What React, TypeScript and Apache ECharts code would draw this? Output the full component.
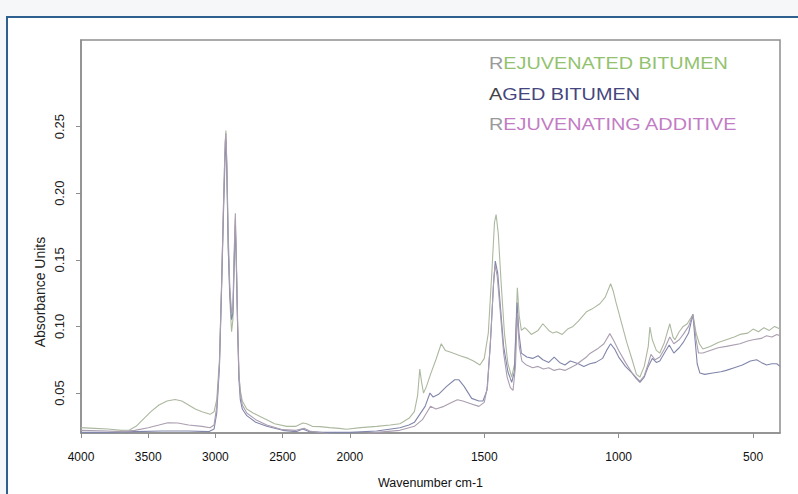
import React, { useEffect, useRef } from 'react';
import * as echarts from 'echarts';

// ---------- data (wavenumber cm-1, absorbance units) ----------
const rejW = [4000,3900,3800,3700,3640,3590,3540,3480,3420,3360,3300,3250,3200,3150,3100,3040,3010,2990,2970,2955,2940,2928,2922,2915,2905,2893,2880,2870,2860,2852,2845,2835,2825,2815,2800,2767,2720,2660,2618,2560,2470,2400,2350,2321,2280,2223,2150,2080,2025,1960,1900,1850,1814,1780,1760,1748,1740,1733,1726,1715,1700,1680,1660,1645,1630,1617,1590,1560,1540,1516,1500,1485,1472,1462,1456,1448,1438,1425,1412,1398,1387,1377,1370,1362,1350,1343,1325,1300,1282,1260,1245,1231,1210,1190,1170,1150,1120,1100,1070,1050,1030,1021,1010,990,970,950,934,921,905,890,884,875,860,847,830,810,798,791,775,760,745,724,712,700,687,660,630,600,570,549,520,500,480,460,440,420,400];
const rejA = [0.024,0.0235,0.023,0.022,0.0222,0.025,0.030,0.036,0.041,0.044,0.0452,0.044,0.041,0.038,0.036,0.034,0.036,0.045,0.075,0.129,0.19,0.235,0.247,0.22,0.16,0.12,0.096,0.105,0.15,0.181,0.15,0.10,0.062,0.052,0.044,0.038,0.035,0.032,0.030,0.027,0.025,0.025,0.0275,0.027,0.025,0.0248,0.024,0.0235,0.0228,0.024,0.025,0.026,0.027,0.031,0.036,0.048,0.068,0.058,0.05,0.055,0.064,0.075,0.087,0.082,0.081,0.080,0.078,0.076,0.074,0.071,0.076,0.095,0.14,0.178,0.184,0.17,0.135,0.095,0.072,0.062,0.072,0.129,0.108,0.097,0.099,0.098,0.094,0.097,0.102,0.097,0.095,0.096,0.094,0.098,0.100,0.104,0.111,0.113,0.117,0.122,0.132,0.127,0.118,0.103,0.088,0.075,0.064,0.062,0.07,0.085,0.0995,0.09,0.082,0.08,0.088,0.102,0.092,0.09,0.096,0.1,0.102,0.109,0.095,0.087,0.083,0.085,0.088,0.09,0.092,0.094,0.095,0.098,0.096,0.099,0.097,0.100,0.098];

const agedW = [4000,3800,3600,3400,3200,3050,3010,2990,2970,2955,2940,2928,2922,2915,2905,2893,2880,2870,2860,2852,2845,2835,2825,2815,2800,2767,2700,2618,2500,2400,2350,2300,2200,2100,2000,1900,1814,1780,1760,1740,1720,1702,1690,1670,1640,1610,1595,1575,1547,1520,1505,1490,1478,1466,1459,1450,1440,1428,1412,1398,1388,1378,1371,1362,1342,1320,1300,1282,1260,1240,1220,1200,1180,1150,1130,1107,1085,1060,1045,1030,1015,1000,975,950,935,921,905,890,875,860,847,830,812,795,775,760,740,724,716,708,698,680,650,620,600,570,540,510,487,470,450,430,412,400];
const agedA = [0.0205,0.0205,0.021,0.0215,0.0215,0.021,0.023,0.035,0.07,0.125,0.185,0.228,0.240,0.215,0.16,0.125,0.105,0.11,0.15,0.176,0.15,0.10,0.06,0.045,0.038,0.033,0.028,0.025,0.022,0.021,0.023,0.021,0.0205,0.0205,0.0205,0.0215,0.024,0.026,0.028,0.034,0.040,0.050,0.047,0.049,0.055,0.060,0.060,0.055,0.046,0.044,0.044,0.052,0.085,0.13,0.149,0.14,0.115,0.085,0.066,0.058,0.066,0.118,0.095,0.08,0.077,0.076,0.078,0.075,0.073,0.077,0.073,0.071,0.074,0.072,0.070,0.072,0.073,0.076,0.082,0.087,0.083,0.077,0.07,0.065,0.061,0.058,0.062,0.07,0.076,0.073,0.074,0.08,0.086,0.08,0.084,0.088,0.095,0.109,0.09,0.072,0.065,0.064,0.065,0.066,0.067,0.069,0.071,0.074,0.075,0.073,0.071,0.072,0.072,0.070];

const addW = [4000,3800,3700,3600,3500,3420,3353,3280,3200,3100,3040,3010,2990,2970,2955,2940,2928,2922,2915,2905,2893,2880,2870,2860,2852,2845,2835,2825,2815,2800,2767,2700,2618,2500,2400,2340,2300,2200,2100,2040,2000,1960,1900,1814,1760,1730,1715,1700,1680,1650,1620,1600,1580,1550,1520,1500,1488,1475,1465,1460,1452,1440,1428,1415,1403,1393,1384,1377,1370,1360,1343,1320,1300,1280,1260,1240,1220,1200,1180,1160,1140,1120,1107,1080,1055,1033,1020,1000,975,950,921,905,890,880,865,847,830,810,795,775,760,740,724,712,703,687,660,630,600,549,520,500,470,450,430,412,400];
const addA = [0.022,0.0215,0.021,0.022,0.024,0.026,0.0277,0.0275,0.026,0.025,0.024,0.026,0.04,0.072,0.128,0.192,0.238,0.245,0.222,0.17,0.13,0.11,0.115,0.158,0.185,0.155,0.105,0.065,0.05,0.041,0.035,0.030,0.026,0.0225,0.022,0.0235,0.0215,0.020,0.0185,0.0175,0.017,0.0185,0.0205,0.022,0.025,0.03,0.035,0.040,0.038,0.04,0.043,0.045,0.044,0.042,0.04,0.043,0.055,0.095,0.135,0.146,0.138,0.11,0.08,0.062,0.054,0.052,0.07,0.11,0.085,0.074,0.071,0.069,0.070,0.068,0.069,0.067,0.068,0.067,0.069,0.071,0.074,0.077,0.0797,0.083,0.087,0.0946,0.09,0.082,0.073,0.065,0.0587,0.063,0.072,0.079,0.075,0.077,0.083,0.092,0.087,0.09,0.094,0.1,0.109,0.09,0.080,0.080,0.082,0.084,0.085,0.087,0.089,0.09,0.091,0.093,0.092,0.094,0.093];

const seriesNames = ['REJUVENATED BITUMEN', 'AGED BITUMEN', 'REJUVENATING ADDITIVE'];
const xTickWavenumbers = [4000, 3500, 3000, 2500, 2000, 1500, 1000, 500];
const yTickValues = [0.05, 0.10, 0.15, 0.20, 0.25];

// FTIR-style axis: 4000-2000 drawn at half the scale of 2000-400
const toAxis = (w: number) => (w >= 2000 ? (4000 - w) / 2 : 1000 + (2000 - w));
const fromAxis = (t: number) => (t <= 1000 ? 4000 - 2 * t : 2000 - (t - 1000));

const FONT = '"Liberation Sans", Arial, sans-serif';

export default function App() {
  const ref = useRef<HTMLDivElement>(null);
  useEffect(() => {
    if (!ref.current) return;
    const chart = echarts.init(ref.current, undefined, { renderer: 'svg' });
    const mk = (w: number[], a: number[]) => w.map((v, i) => [toAxis(v), a[i]]);
    const lineColors = ['#acb89f', '#8186ab', '#aa9eb0'];
    const datasets = [mk(rejW, rejA), mk(agedW, agedA), mk(addW, addA)];
    chart.setOption({
      animation: false,
      grid: {
        left: 81, right: 18, top: 40, bottom: 57,
        show: true, borderColor: '#8e8e8e', borderWidth: 1.5, backgroundColor: '#fff',
      },
      xAxis: {
        type: 'value', min: 0, max: 2600,
        name: 'Wavenumber cm-1', nameLocation: 'middle', nameGap: 43,
        nameTextStyle: { fontFamily: FONT, fontSize: 12.5, color: '#111' },
        axisLine: { show: true, lineStyle: { color: '#8e8e8e', width: 1.5 } },
        axisTick: { show: true, length: 5, customValues: xTickWavenumbers.map(toAxis), lineStyle: { color: '#8e8e8e' } },
        axisLabel: {
          customValues: xTickWavenumbers.map(toAxis),
          formatter: (v: number) => String(Math.round(fromAxis(v))),
          margin: 18, fontFamily: FONT, fontSize: 12, color: '#111',
        },
        splitLine: { show: false },
      },
      yAxis: {
        type: 'value', min: 0.02, max: 0.315,
        axisLine: { show: true, lineStyle: { color: '#8e8e8e', width: 1.5 } },
        axisTick: { show: true, length: 5, customValues: yTickValues, lineStyle: { color: '#8e8e8e' } },
        axisLabel: {
          customValues: yTickValues,
          formatter: (v: number) => v.toFixed(2),
          rotate: 90, margin: 15, fontFamily: FONT, fontSize: 13, color: '#222',
        },
        splitLine: { show: false },
      },
      series: seriesNames.map((name, i) => ({
        name, type: 'line', data: datasets[i], showSymbol: false, symbol: 'none',
        lineStyle: { color: lineColors[i], width: 1.1 }, itemStyle: { color: lineColors[i] },
      })),
      graphic: [
        {
          type: 'text', x: 40, y: 292, rotation: Math.PI / 2,
          style: { text: 'Absorbance Units', font: `14px ${FONT}`, fill: '#222', align: 'center', verticalAlign: 'middle' },
        },
        {
          type: 'text', x: 489, y: 64, scaleX: 1.24,
          style: {
            text: '{a|R}{b|EJUVENATED BITUMEN}', font: `16px ${FONT}`, verticalAlign: 'middle',
            rich: { a: { fill: '#9a9a9a', font: `16px ${FONT}` }, b: { fill: '#93c26f', font: `16px ${FONT}` } },
          },
        },
        {
          type: 'text', x: 489, y: 95, scaleX: 1.24,
          style: {
            text: '{a|A}{b|GED BITUMEN}', font: `16px ${FONT}`, verticalAlign: 'middle',
            rich: { a: { fill: '#444', font: `16px ${FONT}` }, b: { fill: '#45467e', font: `16px ${FONT}` } },
          },
        },
        {
          type: 'text', x: 489, y: 125, scaleX: 1.24,
          style: {
            text: '{a|R}{b|EJUVENATING ADDITIVE}', font: `16px ${FONT}`, verticalAlign: 'middle',
            rich: { a: { fill: '#9a9a9a', font: `16px ${FONT}` }, b: { fill: '#c27cc4', font: `16px ${FONT}` } },
          },
        },
      ],
    });
    return () => chart.dispose();
  }, []);

  return (
    <div style={{ position: 'fixed', left: 0, top: 0, width: 798, height: 494, background: '#f6f7f8', overflow: 'hidden' }}>
      <div style={{ position: 'absolute', left: 6, top: 16, width: 800, height: 500, borderLeft: '2px solid #2d5f8f', borderTop: '2px solid #2d5f8f', background: '#fff' }} />
      <div ref={ref} style={{ position: 'absolute', left: 0, top: 0, width: 798, height: 494 }} />
    </div>
  );
}
